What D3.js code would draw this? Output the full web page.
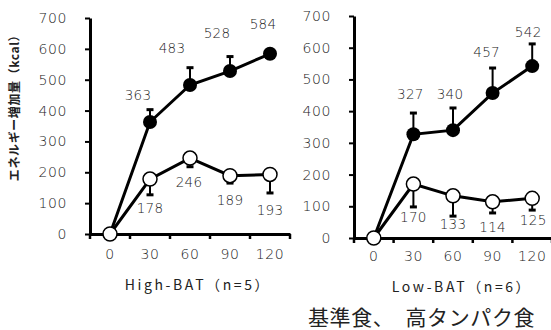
<!DOCTYPE html>
<html>
<head>
<meta charset="utf-8">
<script src="https://cdn.jsdelivr.net/npm/d3@7"></script>
<style>
body { margin: 0; background: #fff; }
svg text { font-family: "Noto Sans CJK JP", "Noto Sans", sans-serif; fill: #222; }
svg text.num { font-family: "DejaVu Sans", sans-serif; font-weight: 200; }
</style>
</head>
<body>
<div id="chart"></div>
<script>
let W = 551, H = 330;

// data
let times = [0, 30, 60, 90, 120];
let yTicks = [0, 100, 200, 300, 400, 500, 600, 700];

// High-BAT (n=5)
let highProtein1 = [0, 363, 483, 528, 584];
let highProteinErr1 = [0, 40, 56, 47, 10];
let baseDiet1 = [0, 178, 246, 189, 193];
let baseDietErr1 = [0, 51, 28, 24, 60];

// Low-BAT (n=6)
let highProtein2 = [0, 327, 340, 457, 542];
let highProteinErr2 = [0, 67, 70, 79, 70];
let baseDiet2 = [0, 170, 133, 114, 125];
let baseDietErr2 = [0, 72, 64, 35, 37];

let svg = d3.select("#chart")
    .append("svg")
    .attr("width", W)
    .attr("height", H);

// nudges for the value texts relative to their marker: [dx, dy]
let blackLabelPos1 = [[0,0],[-12,-27],[-18,-37],[-13,-38],[-7,-30]];
let whiteLabelPos1 = [[0,0],[0,29],[-1,24],[0,25],[0,36]];
let blackLabelPos2 = [[0,0],[-3,-40],[-3,-36],[-6,-41],[-4,-34]];
let whiteLabelPos2 = [[0,0],[0,33],[0,28],[0,25],[1,22]];

function drawPanel(opt){
    let x = d3.scaleBand()
        .domain(times)
        .range(opt.xRange);
    let y = d3.scaleLinear()
        .domain([0, 700])
        .range(opt.yRange);
    let cx = d => x(d) + x.bandwidth() / 2;

    let g = svg.append("g");

    // y axis
    let yAxis = g.append("g")
        .attr("transform", "translate(" + opt.xRange[0] + ",0)")
        .call(d3.axisLeft(y).tickValues(yTicks).tickSize(5).tickSizeOuter(0).tickPadding(18));
    yAxis.select(".domain").attr("stroke", "#000").attr("stroke-width", 3);
    yAxis.selectAll(".tick line").attr("stroke", "#000").attr("stroke-width", 2);
    yAxis.selectAll("text")
        .attr("class", "num")
        .style("font-size", "14px")
        .style("letter-spacing", "0.6px");

    // x axis (labels at band centres, ticks at band edges)
    let xAxis = g.append("g")
        .attr("transform", "translate(0," + opt.yRange[0] + ")")
        .call(d3.axisBottom(x).tickSize(0).tickPadding(opt.xPad));
    xAxis.select(".domain").attr("stroke", "#000").attr("stroke-width", 3);
    xAxis.selectAll("text")
        .attr("class", "num")
        .style("font-size", "14px")
        .style("letter-spacing", "0.6px");
    let edges = times.map(d => x(d)).concat([x.range()[1]]);
    xAxis.selectAll(".edge")
        .data(edges)
        .enter()
        .append("line")
        .attr("x1", d => d).attr("x2", d => d)
        .attr("y1", 0).attr("y2", 5)
        .attr("stroke", "#000")
        .attr("stroke-width", 2.5);

    // x title
    g.append("text")
        .attr("x", opt.titleX)
        .attr("y", opt.titleY)
        .attr("text-anchor", "middle")
        .style("font-size", "14px")
        .style("letter-spacing", "2.6px")
        .text(opt.title);

    let line = d3.line()
        .x((d, i) => cx(times[i]))
        .y(d => y(d));

    // error bars: high protein upward, base diet downward
    function errBars(vals, errs, dir){
        let idx = d3.range(1, vals.length);
        g.selectAll(null).data(idx).enter()
            .append("line")
            .attr("x1", i => cx(times[i])).attr("x2", i => cx(times[i]))
            .attr("y1", i => y(vals[i]))
            .attr("y2", i => y(vals[i] + dir * errs[i]))
            .attr("stroke", "#000").attr("stroke-width", 2);
        g.selectAll(null).data(idx).enter()
            .append("line")
            .attr("x1", i => cx(times[i]) - 3.5).attr("x2", i => cx(times[i]) + 3.5)
            .attr("y1", i => y(vals[i] + dir * errs[i]))
            .attr("y2", i => y(vals[i] + dir * errs[i]))
            .attr("stroke", "#000").attr("stroke-width", 3);
    }
    errBars(opt.black, opt.blackErr, 1);
    errBars(opt.white, opt.whiteErr, -1);

    g.append("path").datum(opt.black)
        .attr("d", line)
        .attr("fill", "none").attr("stroke", "#000").attr("stroke-width", 3);
    g.append("path").datum(opt.white)
        .attr("d", line)
        .attr("fill", "none").attr("stroke", "#000").attr("stroke-width", 3);

    g.selectAll(null).data(opt.black).enter()
        .append("circle")
        .attr("cx", (d, i) => cx(times[i]))
        .attr("cy", d => y(d))
        .attr("r", 7)
        .attr("fill", "#000");
    g.selectAll(null).data(opt.white).enter()
        .append("circle")
        .attr("cx", (d, i) => cx(times[i]))
        .attr("cy", d => y(d))
        .attr("r", 7)
        .attr("fill", "#fff")
        .attr("stroke", "#000")
        .attr("stroke-width", 1.5);

    // value labels
    function valueLabels(vals, pos){
        g.selectAll(null).data(d3.range(1, vals.length)).enter()
            .append("text")
            .attr("class", "num")
            .attr("x", i => cx(times[i]) + pos[i][0])
            .attr("y", i => y(vals[i]) + pos[i][1])
            .attr("text-anchor", "middle")
            .attr("dy", "0.35em")
            .style("font-size", "13.5px")
            .style("letter-spacing", "0.3px")
            .text(i => vals[i]);
    }
    valueLabels(opt.black, opt.blackPos);
    valueLabels(opt.white, opt.whitePos);
}

drawPanel({
    xRange: [90, 290], yRange: [234, 18], xPad: 15,
    black: highProtein1, blackErr: highProteinErr1,
    white: baseDiet1, whiteErr: baseDietErr1,
    blackPos: blackLabelPos1, whitePos: whiteLabelPos1,
    title: "High-BAT（n=5）", titleX: 198, titleY: 290
});
drawPanel({
    xRange: [354, 552], yRange: [238, 16], xPad: 13,
    black: highProtein2, blackErr: highProteinErr2,
    white: baseDiet2, whiteErr: baseDietErr2,
    blackPos: blackLabelPos2, whitePos: whiteLabelPos2,
    title: "Low-BAT（n=6）", titleX: 462, titleY: 292
});

// y axis title
svg.append("text")
    .attr("transform", "translate(19,105) rotate(-90)")
    .attr("text-anchor", "middle")
    .style("font-size", "12px")
    .style("font-weight", "bold")
    .style("letter-spacing", "0.6px")
    .text("エネルギー増加量（kcal）");

// legend text
svg.append("text")
    .attr("x", 308)
    .attr("y", 325)
    .style("font-size", "21px")
    .style("letter-spacing", "0.6px")
    .text("基準食、　高タンパク食");
</script>
</body>
</html>
